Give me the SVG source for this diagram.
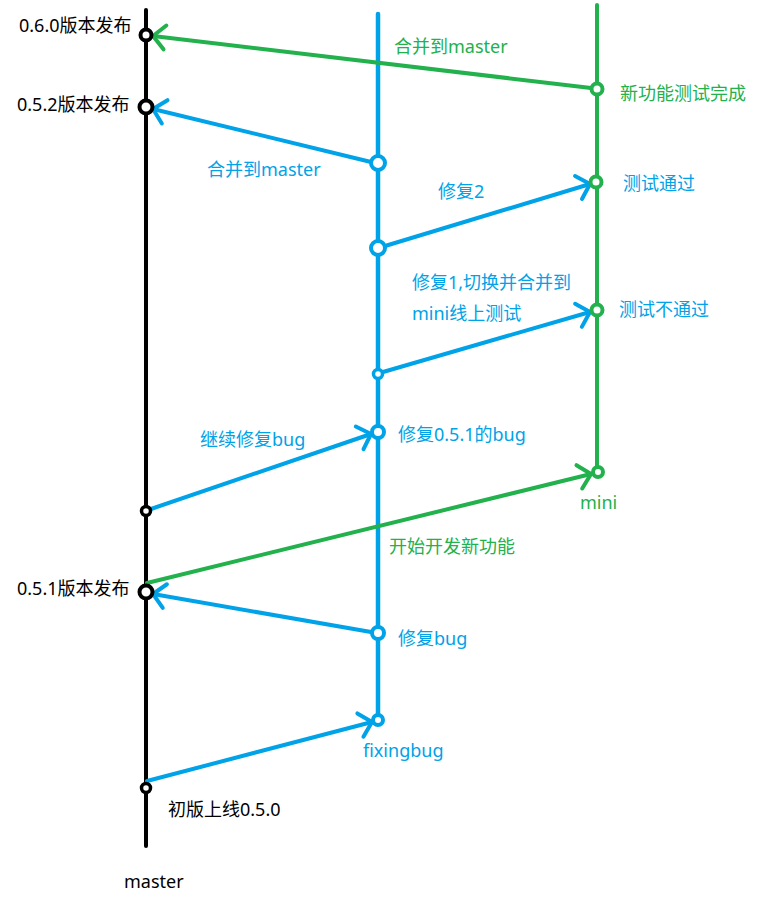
<svg xmlns="http://www.w3.org/2000/svg" width="775" height="915" viewBox="0 0 775 915">
<style>
text{font-family:"Noto Sans","Noto Sans CJK SC",sans-serif;font-size:18px}
.k{fill:#000}.b{fill:#00A2E8}.g{fill:#22B14C}
.ln{fill:none;stroke-linecap:round}
.lk{stroke:#000;stroke-width:4}
.lb{stroke:#00A2E8;stroke-width:4.5}
.lg{stroke:#22B14C;stroke-width:4}
.cb{stroke:#00A2E8;stroke-width:4;fill:none;stroke-linecap:round}
.cg{stroke:#22B14C;stroke-width:4;fill:none;stroke-linecap:round}
.n{fill:#fff;stroke-width:4}
.nk{stroke:#000}.nb{stroke:#00A2E8}.ng{stroke:#22B14C}
</style>
<defs>
<marker id="ab" markerUnits="userSpaceOnUse" orient="auto" refX="0" refY="0" markerWidth="24" markerHeight="34" viewBox="-18 -17 24 34" overflow="visible">
<path d="M-12,-12 L0,0 L-12,12" fill="none" stroke="#00A2E8" stroke-width="4" stroke-linecap="round" stroke-linejoin="round"/>
</marker>
<marker id="ag" markerUnits="userSpaceOnUse" orient="auto" refX="0" refY="0" markerWidth="24" markerHeight="34" viewBox="-18 -17 24 34" overflow="visible">
<path d="M-12,-12 L0,0 L-12,12" fill="none" stroke="#22B14C" stroke-width="4" stroke-linecap="round" stroke-linejoin="round"/>
</marker>
</defs>

<g id="branch-master">
<line class="ln lk" x1="146" y1="10" x2="146" y2="846"/>
<text class="k" x="124" y="888">master</text>
</g>
<g id="branch-fixingbug">
<line class="ln lb" x1="378" y1="14" x2="378" y2="720"/>
</g>
<g id="branch-mini">
<line class="ln lg" x1="597" y1="5" x2="597" y2="472"/>
</g>

<g id="connectors">
<line class="cg" x1="591" y1="88" x2="153" y2="36" marker-end="url(#ag)"/>
<line class="cb" x1="371" y1="162" x2="153" y2="109" marker-end="url(#ab)"/>
<line class="cb" x1="385" y1="246" x2="590" y2="184" marker-end="url(#ab)"/>
<line class="cb" x1="383" y1="372" x2="590" y2="312" marker-end="url(#ab)"/>
<line class="cb" x1="151" y1="509" x2="371" y2="434" marker-end="url(#ab)"/>
<line class="cb" x1="371" y1="632" x2="153" y2="594" marker-end="url(#ab)"/>
<line class="cg" x1="147" y1="583" x2="591" y2="474" marker-end="url(#ag)"/>
<line class="cb" x1="147" y1="781" x2="372" y2="722" marker-end="url(#ab)"/>
</g>

<g id="m-060"><circle class="n nk" cx="146" cy="35" r="5.5"/><text class="k" x="19" y="32">0.6.0版本发布</text></g>
<g id="m-052"><circle class="n nk" cx="146" cy="107" r="6.5"/><text class="k" x="17" y="111">0.5.2版本发布</text></g>
<g id="m-continue"><circle class="n nk" cx="146" cy="511" r="4.5" style="stroke-width:3.5"/></g>
<g id="m-051"><circle class="n nk" cx="146" cy="592" r="6.5"/><text class="k" x="17" y="595">0.5.1版本发布</text></g>
<g id="m-050"><circle class="n nk" cx="146" cy="788" r="4.5" style="stroke-width:3.5"/><text class="k" x="168" y="816">初版上线0.5.0</text></g>

<g id="f-merge"><circle class="n nb" cx="378" cy="163" r="7"/><text class="b" x="207" y="176">合并到master</text></g>
<g id="f-fix2"><circle class="n nb" cx="378" cy="248" r="7"/><text class="b" x="438" y="198">修复2</text></g>
<g id="f-fix1"><circle class="n nb" cx="378" cy="374" r="4.5" style="stroke-width:3.5"/><text class="b" x="412" y="289">修复1,切换并合并到</text><text class="b" x="412" y="320">mini线上测试</text></g>
<g id="f-fix051"><circle class="n nb" cx="378" cy="432" r="6"/><text class="b" x="398" y="441">修复0.5.1的bug</text><text class="b" x="200" y="446">继续修复bug</text></g>
<g id="f-fixbug"><circle class="n nb" cx="378" cy="633" r="6"/><text class="b" x="398" y="645">修复bug</text></g>
<g id="f-start"><circle class="n nb" cx="378" cy="720" r="5"/><text class="b" x="363" y="757">fixingbug</text></g>

<g id="g-done"><circle class="n ng" cx="597" cy="89" r="5.5"/><text class="g" x="620" y="100">新功能测试完成</text><text class="g" x="394" y="53">合并到master</text></g>
<g id="g-pass"><circle class="n ng" cx="596" cy="182" r="5.5"/><text class="b" x="623" y="190">测试通过</text></g>
<g id="g-fail"><circle class="n ng" cx="597" cy="310" r="5.5"/><text class="b" x="619" y="316">测试不通过</text></g>
<g id="g-mini"><circle class="n ng" cx="598" cy="472" r="5"/><text class="g" x="580" y="509">mini</text><text class="g" x="389" y="553">开始开发新功能</text></g>
</svg>
